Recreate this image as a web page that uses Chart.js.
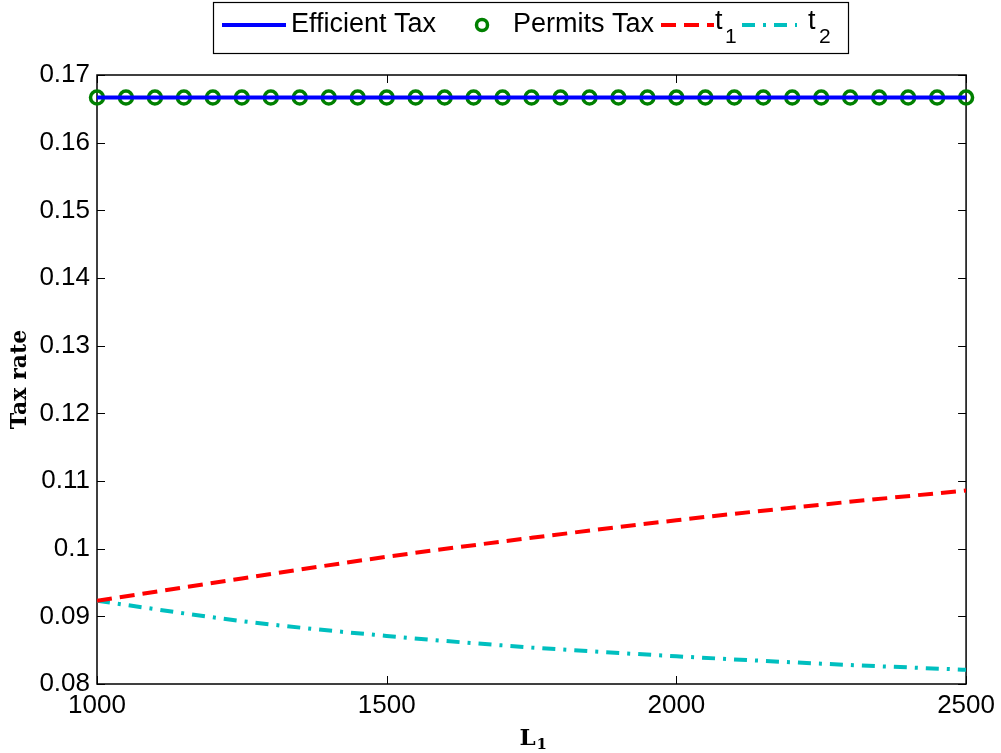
<!DOCTYPE html>
<html>
<head>
<meta charset="utf-8">
<script src="https://cdn.jsdelivr.net/npm/chart.js@4.4.1/dist/chart.umd.min.js"></script>
<style>
  html, body { margin: 0; padding: 0; background: #fff; }
  #wrap { width: 1001px; height: 753px; }
</style>
</head>
<body>
<div id="wrap"><canvas id="taxCanvas" width="1001" height="753"></canvas></div>
<script>
// values
const effL1 = [1000, 2500];
const effTax = [0.16667, 0.16667];

const permL1 = [1000, 1050, 1100, 1150, 1200, 1250, 1300, 1350, 1400, 1450, 1500,
                1550, 1600, 1650, 1700, 1750, 1800, 1850, 1900, 1950, 2000,
                2050, 2100, 2150, 2200, 2250, 2300, 2350, 2400, 2450, 2500];
const permTax = [0.16667, 0.16667, 0.16667, 0.16667, 0.16667, 0.16667, 0.16667, 0.16667,
                 0.16667, 0.16667, 0.16667, 0.16667, 0.16667, 0.16667, 0.16667, 0.16667,
                 0.16667, 0.16667, 0.16667, 0.16667, 0.16667, 0.16667, 0.16667, 0.16667,
                 0.16667, 0.16667, 0.16667, 0.16667, 0.16667, 0.16667, 0.16667];

const tL1 = [1000, 1250, 1500, 1750, 2000, 2250, 2500];
const t1 = [0.0923, 0.0956, 0.0988, 0.1016, 0.1042, 0.1065, 0.1086];
const t2 = [0.0923, 0.0893, 0.0871, 0.0854, 0.0841, 0.0830, 0.0821];

const xTicks = [1000, 1500, 2000, 2500];
const yTicks = [0.08, 0.09, 0.10, 0.11, 0.12, 0.13, 0.14, 0.15, 0.16, 0.17];

const pts = (xs, ys) => xs.map((x, i) => ({ x: x, y: ys[i] }));
const FONT = "'Liberation Sans', Arial, sans-serif";
const SERIF = "'DejaVu Serif', serif";

// MATLAB-ish box with inward ticks
const framePlugin = {
    id: 'frame',
    beforeDatasetsDraw(chart) {
        const { ctx, chartArea: a, scales } = chart;
        const len = 8;
        ctx.save();
        ctx.strokeStyle = '#000';
        ctx.lineWidth = 1.5;
        ctx.strokeRect(a.left, a.top, a.right - a.left, a.bottom - a.top);
        ctx.lineWidth = 1;
        ctx.beginPath();
        yTicks.forEach(v => {
            const y = Math.round(scales.y.getPixelForValue(v)) + 0.5;
            ctx.moveTo(a.left, y); ctx.lineTo(a.left + len, y);
            ctx.moveTo(a.right, y); ctx.lineTo(a.right - len, y);
        });
        xTicks.forEach(v => {
            const x = Math.round(scales.x.getPixelForValue(v)) + 0.5;
            ctx.moveTo(x, a.bottom); ctx.lineTo(x, a.bottom - len);
            ctx.moveTo(x, a.top); ctx.lineTo(x, a.top + len);
        });
        ctx.stroke();

        // x axis title L with subscript 1
        const cx = (a.left + a.right) / 2;
        ctx.fillStyle = '#000';
        ctx.textBaseline = 'alphabetic';
        ctx.font = 'bold 23px ' + SERIF;
        ctx.fillText('L', cx - 12, 745);
        ctx.font = 'bold 15px ' + SERIF;
        ctx.fillText('1', cx + 5, 749);
        ctx.restore();
    }
};

// boxed legend like the original figure
const legendPlugin = {
    id: 'boxLegend',
    afterDraw(chart) {
        const ctx = chart.ctx;
        const ds = chart.data.datasets;
        const cy = 25;
        ctx.save();
        ctx.fillStyle = '#fff';
        ctx.fillRect(213, 2, 635, 51);
        ctx.strokeStyle = '#000';
        ctx.lineWidth = 1.2;
        ctx.strokeRect(213.5, 2.5, 635, 51);

        const sample = (d, x0, x1) => {
            ctx.save();
            ctx.strokeStyle = d.borderColor;
            ctx.lineWidth = d.borderWidth;
            ctx.setLineDash(d.borderDash || []);
            ctx.beginPath();
            ctx.moveTo(x0, cy); ctx.lineTo(x1, cy);
            ctx.stroke();
            ctx.restore();
        };
        ctx.fillStyle = '#000';
        ctx.textBaseline = 'middle';
        ctx.font = '27px ' + FONT;

        sample(ds[0], 222, 286);
        ctx.fillText(ds[0].label, 291, cy);

        ctx.save();
        ctx.strokeStyle = ds[1].pointBorderColor;
        ctx.lineWidth = ds[1].pointBorderWidth;
        ctx.beginPath();
        ctx.arc(482, cy, ds[1].pointRadius - 1, 0, Math.PI * 2);
        ctx.stroke();
        ctx.restore();
        ctx.fillText(ds[1].label, 513, cy);

        sample(ds[2], 661, 714);
        ctx.fillText('t', 715, cy - 3);
        ctx.font = '21px ' + FONT;
        ctx.fillText('1', 725, cy + 12);

        ctx.font = '27px ' + FONT;
        sample(ds[3], 742, 797);
        ctx.fillText('t', 808, cy - 3);
        ctx.font = '21px ' + FONT;
        ctx.fillText('2', 819, cy + 12);
        ctx.restore();
    }
};

new Chart(document.getElementById('taxCanvas'), {
    type: 'line',
    data: {
        datasets: [
            {
                label: 'Efficient Tax',
                data: pts(effL1, effTax),
                borderColor: '#0000ff',
                borderWidth: 4,
                pointRadius: 0,
                clip: false
            },
            {
                label: 'Permits Tax',
                data: pts(permL1, permTax),
                showLine: false,
                borderColor: '#008000',
                pointBorderColor: '#008000',
                pointBackgroundColor: 'rgba(0,0,0,0)',
                pointRadius: 6.5,
                pointBorderWidth: 3.5,
                clip: false
            },
            {
                label: 't1',
                data: pts(tL1, t1),
                borderColor: '#ff0000',
                borderWidth: 4,
                borderDash: [15, 8],
                pointRadius: 0,
                cubicInterpolationMode: 'monotone'
            },
            {
                label: 't2',
                data: pts(tL1, t2),
                borderColor: '#00bfbf',
                borderWidth: 4,
                borderDash: [13, 8, 3, 8],
                pointRadius: 0,
                cubicInterpolationMode: 'monotone'
            }
        ]
    },
    options: {
        responsive: false,
        animation: false,
        devicePixelRatio: 1,
        layout: { padding: { top: 75, right: 33, left: 0, bottom: 0 } },
        scales: {
            x: {
                type: 'linear',
                min: 1000,
                max: 2500,
                afterBuildTicks: (s) => { s.ticks = xTicks.map(v => ({ value: v })); },
                afterFit: (s) => { s.height = 69; },
                grid: { display: false, drawTicks: false },
                border: { display: false },
                ticks: {
                    padding: 6,
                    color: '#000',
                    maxRotation: 0,
                    font: { family: FONT, size: 26 },
                    callback: (v) => String(v)
                },
                title: { display: false }
            },
            y: {
                min: 0.08,
                max: 0.17,
                afterBuildTicks: (s) => { s.ticks = yTicks.map(v => ({ value: v })); },
                afterFit: (s) => { s.width = 97; },
                grid: { display: false, drawTicks: false },
                border: { display: false },
                ticks: {
                    padding: 7,
                    color: '#000',
                    font: { family: FONT, size: 26 },
                    callback: (v) => String(+v.toFixed(2))
                },
                title: {
                    display: true,
                    text: 'Tax rate',
                    color: '#000',
                    padding: { top: 7, bottom: 0 },
                    font: { family: SERIF, size: 22, weight: 'bold' }
                }
            }
        },
        plugins: {
            legend: { display: false },
            tooltip: { enabled: false }
        }
    },
    plugins: [framePlugin, legendPlugin]
});
</script>
</body>
</html>
